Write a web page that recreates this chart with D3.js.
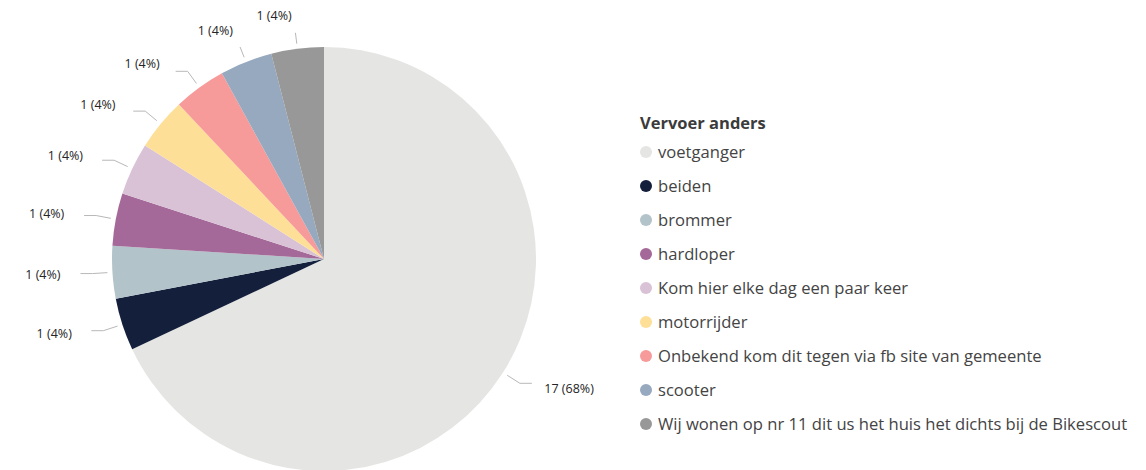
<!DOCTYPE html>
<html><head><meta charset="utf-8">
<script src="https://cdn.jsdelivr.net/npm/d3@7"></script>
<style>
html,body{margin:0;padding:0;background:#fff;}
svg{display:block;font-family:"Open Sans","Segoe UI",sans-serif;}
</style></head>
<body>
<svg id="chart" width="1146" height="470"></svg>
<script>
const title = "Vervoer anders";
const categories = ["voetganger","beiden","brommer","hardloper","Kom hier elke dag een paar keer","motorrijder","Onbekend kom dit tegen via fb site van gemeente","scooter","Wij wonen op nr 11 dit us het huis het dichts bij de Bikescout"];
const values = [17,1,1,1,1,1,1,1,1];
const colors = ["#E5E5E3","#131F3B","#B3C3CA","#A56999","#D9C2D5","#FDDF98","#F69B9A","#97A9BF","#989898"];

const svg = d3.select("#chart");
const cx = 324, cy = 259, R = 212;
const total = d3.sum(values);
const data = categories.map((c,i)=>({name:c, value:values[i], color:colors[i]}));

const pie = d3.pie().value(d=>d.value).sort(null);
const arcs = pie(data);
const arc = d3.arc().innerRadius(0).outerRadius(R);
const g = svg.append("g").attr("transform",`translate(${cx},${cy})`);
g.selectAll("path.slice").data(arcs).join("path")
  .attr("class","slice").attr("d",arc).attr("fill",d=>d.data.color);

function pt(a, r){ return [r*Math.sin(a), -r*Math.cos(a)]; }
const lines = g.append("g");
arcs.forEach(d=>{
  const a = (d.startAngle+d.endAngle)/2;
  const right = Math.sin(a) > 0;
  const up = Math.cos(a) > 0.9;
  const p1 = pt(a, R+5), p2 = pt(a, R+20);
  const p3 = [p2[0] + (right?12:-12), p2[1]];
  lines.append("polyline")
    .attr("points",(up?[p1,pt(a,R+16)]:[p1,p2,p3]).map(p=>p.join(",")).join(" "))
    .attr("fill","none").attr("stroke","#b8b8b8").attr("stroke-width",1);
  const lp = pt(a, R+30);
  const pct = Math.round(d.data.value/total*100);
  g.append("text")
    .attr("x", up ? lp[0]-2 : lp[0] + (right?16:-22))
    .attr("y", up ? lp[1]-3 : lp[1])
    .attr("dy","0.35em")
    .attr("text-anchor", right?"start":"end")
    .attr("font-size",12.5).attr("fill","#252525")
    .text(`${d.data.value} (${pct}%)`);
});

// legend
const lg = svg.append("g").attr("transform","translate(640,0)");
lg.append("text").attr("x",0).attr("y",129).attr("font-size",16.5)
  .attr("font-weight","bold").attr("fill","#3b3b3b").text(title);
const item = lg.selectAll("g.item").data(data).join("g")
  .attr("class","item").attr("transform",(d,i)=>`translate(0,${152+i*34})`);
item.append("circle").attr("cx",6).attr("cy",0).attr("r",6).attr("fill",d=>d.color);
item.append("text").attr("x",18).attr("y",0).attr("dy","0.35em")
  .attr("font-size",16.6).attr("fill","#444").text(d=>d.name);
</script>
</body></html>
